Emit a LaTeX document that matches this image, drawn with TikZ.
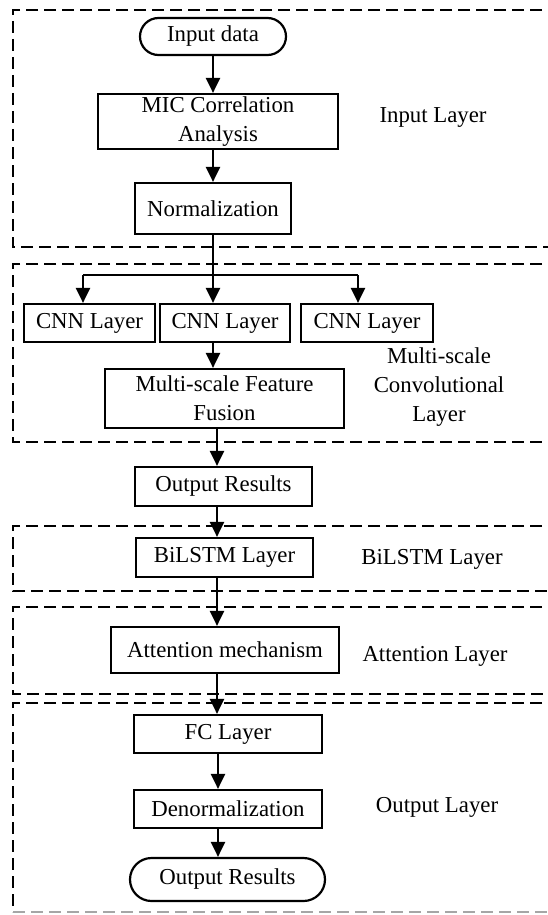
\documentclass[tikz,border=0pt]{standalone}
\usepackage{fontspec}
\setmainfont{Liberation Serif}
\usetikzlibrary{arrows.meta,shapes.misc}
\begin{document}
\begin{tikzpicture}[x=1pt,y=-1pt,
  every node/.style={font=\fontsize{22.8}{28.8}\selectfont},
  box/.style={draw, line width=2.2pt, inner sep=0pt, align=center},
  term/.style={draw, line width=2.2pt, inner sep=0pt, rounded rectangle, align=center},
  frame/.style={line width=2.8pt, dash pattern=on 12pt off 6pt},
  arr/.style={line width=2.2pt, -{Triangle[width=14pt,length=15pt]}},
  lbl/.style={align=center}]
\useasboundingbox (0,0) rectangle (547,915);
% dashed group frames
\draw[frame] (560,10) -- (13,10) -- (13,247) -- (560,247);
\draw[frame] (560,264) -- (13,264) -- (13,442) -- (560,442);
\draw[frame] (560,526) -- (13,526) -- (13,591) -- (560,591);
\draw[frame] (560,607) -- (13,607) -- (13,694) -- (560,694);
\draw[frame] (560,703) -- (13,703) -- (13,912);
\draw[frame, black!35, line width=1.8pt] (13,912) -- (560,912);
% nodes
\node[term, minimum width=146pt, minimum height=37pt] (in) at (213,36.5) {Input data};
\node[box, minimum width=240pt, minimum height=55pt] (mic) at (218,121.5) {MIC Correlation\\Analysis};
\node[box, minimum width=156pt, minimum height=51pt] (norm) at (213,208.5) {Normalization};
\node[box, minimum width=131pt, minimum height=38pt] (cnn1) at (89.5,323) {CNN Layer};
\node[box, minimum width=130pt, minimum height=38pt] (cnn2) at (225,323) {CNN Layer};
\node[box, minimum width=132pt, minimum height=38pt] (cnn3) at (367,323) {CNN Layer};
\node[box, minimum width=239pt, minimum height=59pt] (msff) at (224.5,398.5) {Multi-scale Feature\\Fusion};
\node[box, minimum width=177pt, minimum height=39pt] (out1) at (223.5,486.5) {Output Results};
\node[box, minimum width=177pt, minimum height=39pt] (bil) at (224.5,557.5) {BiLSTM Layer};
\node[box, minimum width=228pt, minimum height=46pt] (att) at (225,650) {Attention mechanism};
\node[box, minimum width=188pt, minimum height=38pt] (fc) at (228,734) {FC Layer};
\node[box, minimum width=188pt, minimum height=38pt] (den) at (228,809) {Denormalization};
\node[term, minimum width=195pt, minimum height=43pt] (out2) at (227.5,879.5) {Output Results};
% labels
\node[lbl] (l1) at (433,117) {Input Layer};
\node[lbl] (l2) at (439,387) {Multi-scale\\Convolutional\\Layer};
\node[lbl] (l3) at (432,559) {BiLSTM Layer};
\node[lbl] (l4) at (435,656) {Attention Layer};
\node[lbl] (l5) at (437,807) {Output Layer};
% spine coordinates
\coordinate (sa) at (213,0);
\coordinate (sb) at (217,0);
\coordinate (sc) at (218,0);
\coordinate (s1) at (83,0);
\coordinate (s3) at (358,0);
\coordinate (br) at (213,275);
% connectors
\draw[arr] (in.south -| sa) -- (mic.north -| sa);
\draw[arr] (mic.south -| sa) -- (norm.north -| sa);
\draw[arr] (norm.south -| sa) -- (cnn2.north -| sa);
\draw[line width=2.2pt] (br -| s1) -- (br -| s3);
\draw[arr] (br -| s1) -- (cnn1.north -| s1);
\draw[arr] (br -| s3) -- (cnn3.north -| s3);
\draw[arr] (cnn2.south -| sa) -- (msff.north -| sa);
\draw[arr] (msff.south -| sb) -- (out1.north -| sb);
\draw[arr] (out1.south -| sb) -- (bil.north -| sb);
\draw[arr] (bil.south -| sb) -- (att.north -| sb);
\draw[arr] (att.south -| sb) -- (fc.north -| sb);
\draw[arr] (fc.south -| sc) -- (den.north -| sc);
\draw[arr] (den.south -| sc) -- (out2.north -| sc);
\end{tikzpicture}
\end{document}
